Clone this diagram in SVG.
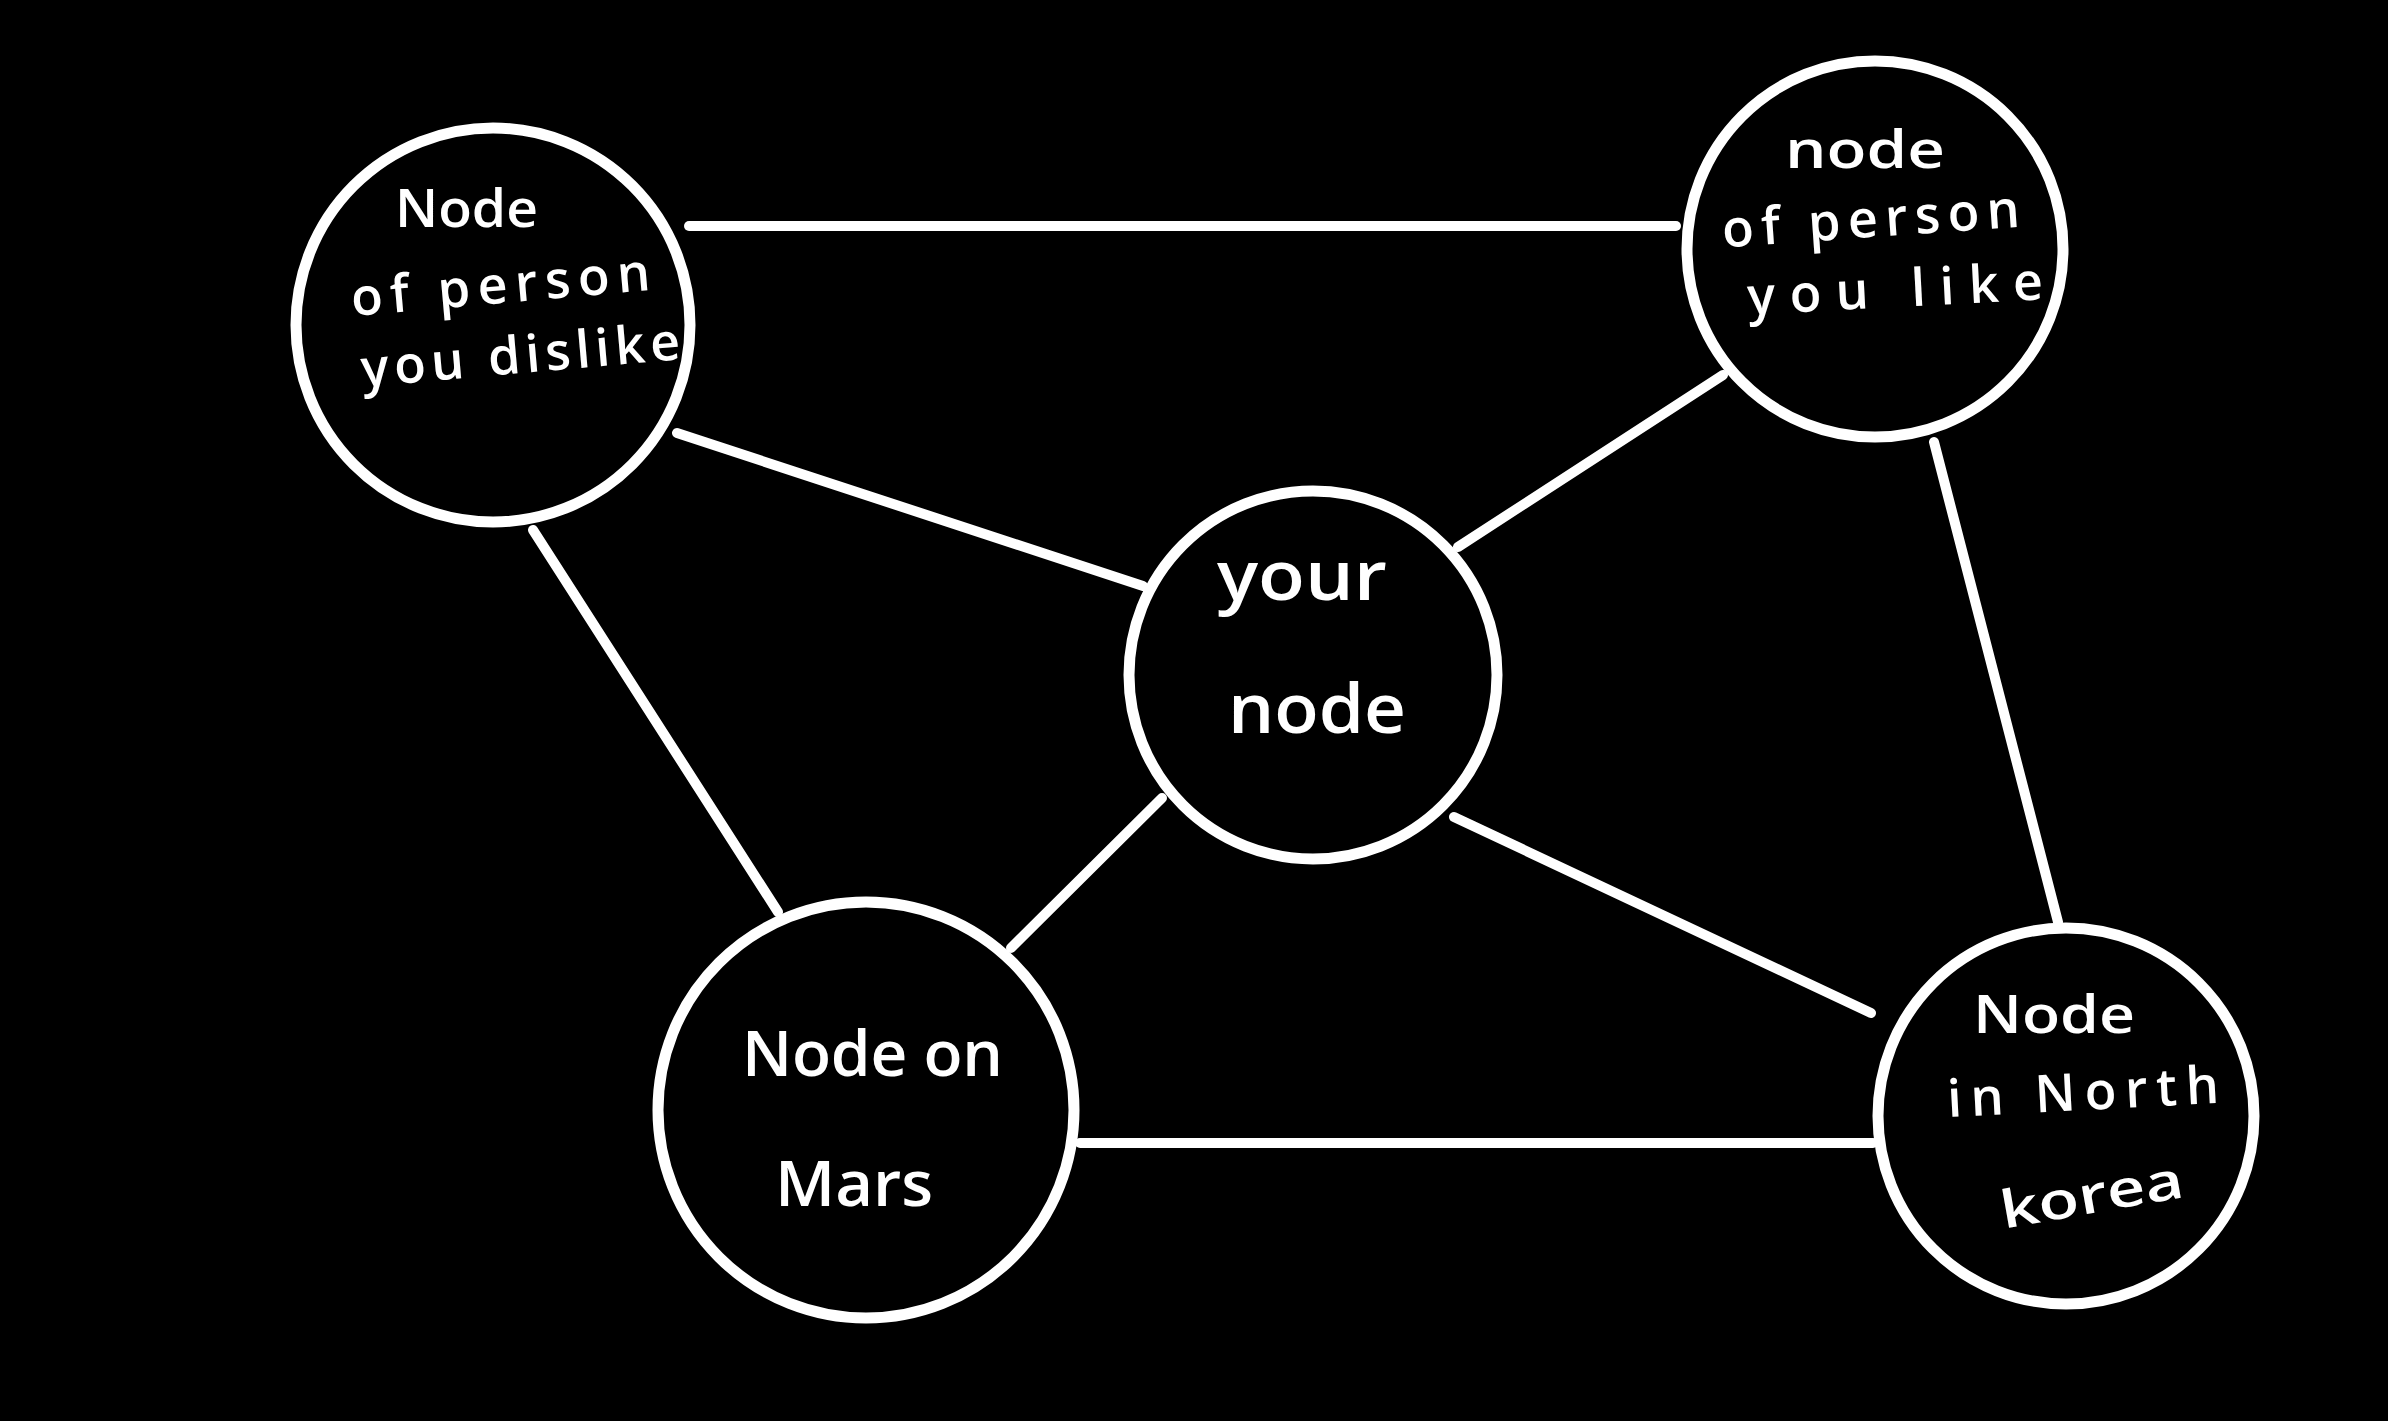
<svg xmlns="http://www.w3.org/2000/svg" width="2388" height="1421" viewBox="0 0 2388 1421">
<style>
.node{fill:#000;stroke:#fff;stroke-width:11}
.edge{stroke:#fff;stroke-width:10;stroke-linecap:round;fill:none}
.lbl{fill:#fff;font-family:"Open Sans","Liberation Sans",sans-serif;font-weight:600}
.s{font-size:52px}
.m{font-size:64px}
.l{font-size:68px}
</style>
<rect x="0" y="0" width="2388" height="1421" fill="#000"/>
<g id="connectors">
<line class="edge" x1="689" y1="226" x2="1676" y2="226"/>
<line class="edge" x1="677" y1="433" x2="1143" y2="586"/>
<line class="edge" x1="1458" y1="547" x2="1723" y2="375"/>
<line class="edge" x1="533" y1="530" x2="778" y2="912"/>
<line class="edge" x1="1162" y1="798" x2="1011" y2="948"/>
<line class="edge" x1="1454" y1="817" x2="1871" y2="1013"/>
<line class="edge" x1="1934" y1="442" x2="2058" y2="922"/>
<line class="edge" x1="1080" y1="1143" x2="1873" y2="1143"/>
</g>
<g id="node-dislike">
<circle class="node" cx="493" cy="325" r="197"/>
<text class="lbl s" x="395" y="227" textLength="143" lengthAdjust="spacingAndGlyphs">Node</text>
<text class="lbl s" x="352" y="303" textLength="300" lengthAdjust="spacing" transform="rotate(-5 502 303)">of person</text>
<text class="lbl s" x="362" y="373" textLength="320" lengthAdjust="spacing" transform="rotate(-5 522 373)">you dislike</text>
</g>
<g id="node-like">
<circle class="node" cx="1875" cy="249" r="188"/>
<text class="lbl s" x="1785" y="168" textLength="160" lengthAdjust="spacingAndGlyphs">node</text>
<text class="lbl s" x="1723" y="237" textLength="298" lengthAdjust="spacing" transform="rotate(-4 1872 237)">of person</text>
<text class="lbl s" x="1748" y="307" textLength="296" lengthAdjust="spacing" transform="rotate(-3 1896 307)">you like</text>
</g>
<g id="node-you">
<circle class="node" cx="1313" cy="675" r="184"/>
<text class="lbl l" x="1217" y="600" textLength="170" lengthAdjust="spacingAndGlyphs">your</text>
<text class="lbl l" x="1228" y="733" textLength="178" lengthAdjust="spacingAndGlyphs">node</text>
</g>
<g id="node-mars">
<circle class="node" cx="866" cy="1110" r="208"/>
<text class="lbl m" x="742" y="1076" textLength="261" lengthAdjust="spacing">Node on</text>
<text class="lbl m" x="775" y="1206" textLength="158" lengthAdjust="spacingAndGlyphs">Mars</text>
</g>
<g id="node-northkorea">
<circle class="node" cx="2066" cy="1116" r="188"/>
<text class="lbl s" x="1973" y="1033" textLength="162" lengthAdjust="spacingAndGlyphs">Node</text>
<text class="lbl s" x="1948" y="1110" textLength="272" lengthAdjust="spacing" transform="rotate(-3 2084 1110)">in North</text>
<text class="lbl s" x="2000" y="1213" textLength="185" lengthAdjust="spacingAndGlyphs" transform="rotate(-10 2092 1200)">korea</text>
</g>
</svg>
